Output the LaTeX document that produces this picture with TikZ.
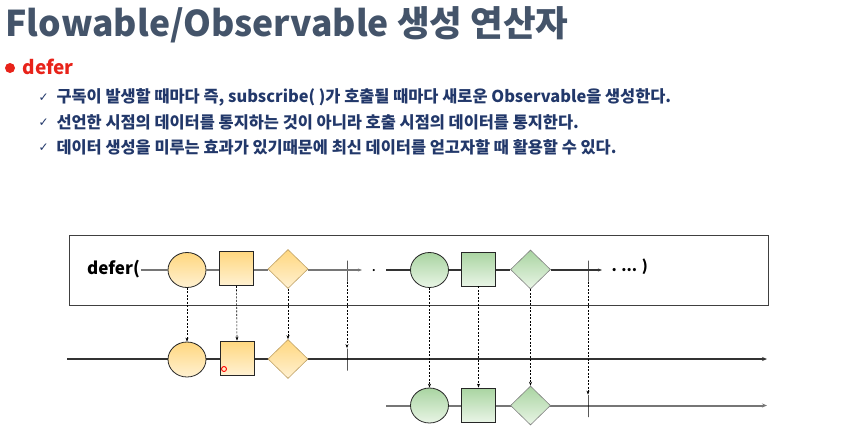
\documentclass[tikz,border=0pt]{standalone}
\usepackage{fontspec}
\setmainfont{Noto Sans CJK KR}
\newfontfamily\symfont{DejaVu Sans}
\usetikzlibrary{shapes.geometric, arrows.meta, positioning}

\definecolor{titlegray}{HTML}{44546A}
\definecolor{bulletred}{HTML}{E8231A}
\definecolor{notedark}{HTML}{22386A}
\definecolor{orangetop}{HTML}{FFD77F}
\definecolor{orangebot}{HTML}{FFF1D2}
\definecolor{greentop}{HTML}{A9D4A1}
\definecolor{greenbot}{HTML}{E9F5E6}
\definecolor{linegray}{HTML}{767676}

\begin{document}
\begin{tikzpicture}[x=1pt, y=-1pt,
    marblec/.style={draw=black!85, ellipse, minimum width=38pt, minimum height=35pt, inner sep=0pt, line width=.8pt},
    marbles/.style={draw=black!85, rectangle, minimum width=34pt, minimum height=34pt, inner sep=0pt, line width=.8pt},
    marbled/.style={diamond, minimum width=40pt, minimum height=39pt, inner sep=0pt, line width=.6pt},
    orange/.style={top color=orangetop, bottom color=orangebot},
    green/.style={top color=greentop, bottom color=greenbot},
    endtick/.style={draw, inner sep=0pt, minimum width=0pt, minimum height=21pt, line width=.8pt},
    flowline/.style={linegray, line width=1.2pt},
    timeline/.style={line width=1.5pt, -{Stealth[length=5pt,width=4pt]}},
    emit/.style={black, line width=.6pt, dash pattern=on 2pt off 1.5pt, -{Stealth[length=4pt,width=3pt]}},
    note/.style={anchor=west, text=notedark, font=\bfseries\fontsize{16.4}{18}\selectfont}
    ]
    \useasboundingbox (0,0) rectangle (854,432);

    % heading
    \node [anchor=west, text=titlegray, font=\bfseries\fontsize{35.5}{40}\selectfont] (title) at (2,25) {Flowable/Observable 생성 연산자};
    \node [circle, fill=bulletred, minimum size=10pt, inner sep=0pt] (dotred) at (10,68) {};
    \node [anchor=west, text=bulletred, font=\bfseries\fontsize{19}{22}\selectfont] (name) at (19,67) {defer};

    \node [anchor=west, text=notedark, font=\symfont\fontsize{12}{14}\selectfont] (ck1) at (35,98) {✓};
    \node [anchor=west, text=notedark, font=\symfont\fontsize{12}{14}\selectfont] (ck2) at (35,123) {✓};
    \node [anchor=west, text=notedark, font=\symfont\fontsize{12}{14}\selectfont] (ck3) at (35,148) {✓};
    \node [note] (n1) at (53,97) {구독이 발생할 때마다 즉, subscribe( )가 호출될 때마다 새로운 Observable을 생성한다.};
    \node [note] (n2) at (53,122) {선언한 시점의 데이터를 통지하는 것이 아니라 호출 시점의 데이터를 통지한다.};
    \node [note] (n3) at (53,147) {데이터 생성을 미루는 효과가 있기때문에 최신 데이터를 얻고자할 때 활용할 수 있다.};

    % frame of defer( ... )
    \node [draw=black!75, line width=1pt, minimum width=699pt, minimum height=70pt, inner sep=0pt] (frame) at (418.5,270) {};

    % lower timelines
    \coordinate (a0) at (67,359);
    \coordinate (a1) at (767,359);
    \coordinate (b0) at (386,405.5);
    \coordinate (b1) at (767,405.5);
    \draw [timeline, black!80] (a0) -- (a1);
    \draw [timeline, linegray, line width=2pt] (b0) -- (b1);

    % upper marbles
    \node [anchor=west, inner sep=1pt, font=\bfseries\fontsize{17}{19}\selectfont] (lbl) at (86,269) {defer(};
    \node [marblec, orange] (c1) at (187,270) {};
    \node [marbles, orange] (s1) at (236.5,268.5) {};
    \node [marbled, orange, draw={rgb,255:red,190;green,160;blue,100}] (d1) at (288,269) {};
    \node [endtick] (k1) at (347,271) {};
    \coordinate (e1) at (362,270);
    \node [font=\bfseries] (sep) at (374,271) {.};

    \coordinate (g0) at (386,270);
    \node [marblec, green] (c2) at (429.5,270) {};
    \node [marbles, green] (s2) at (478.5,269) {};
    \node [marbled, green, draw=black!50] (d2) at (530.5,269.5) {};
    \node [endtick] (k2) at (588,271) {};
    \coordinate (e2) at (602,270);
    \node [anchor=west, font=\bfseries\fontsize{15}{17}\selectfont] (tail) at (608,267) {. ... )};

    \draw [flowline] (lbl.east |- c1.west) -- (c1.west);
    \draw [flowline] (c1.east) -- (s1.west |- c1.east);
    \draw [flowline] (s1.east |- c1.east) -- (d1.west |- c1.east);
    \draw [flowline, -{Stealth[length=4pt,width=3pt]}] (d1.east |- c1.east) -- (e1);
    \draw [flowline, black!80] (g0) -- (c2.west);
    \draw [flowline, black!80] (c2.east) -- (s2.west |- c2.east);
    \draw [flowline, black!80] (s2.east |- c2.east) -- (d2.west |- c2.east);
    \draw [flowline, black!80, -{Stealth[length=4pt,width=3pt]}] (d2.east |- c2.east) -- (e2);

    % lower marbles
    \node [marblec, orange] (c3) at (187,359.5) {};
    \node [marbles, orange] (s3) at (237,358) {};
    \node [marbled, orange, draw={rgb,255:red,190;green,160;blue,100}] (d3) at (288,359) {};
    \node [endtick, minimum height=22pt] (k3) at (347,359.5) {};
    \node [circle, draw=red, line width=.9pt, minimum size=5pt, inner sep=0pt] (spot) at (224,369) {};

    \node [marblec, green] (c4) at (429.5,405.5) {};
    \node [marbles, green] (s4) at (478.5,405) {};
    \node [marbled, green, draw=black!50] (d4) at (530.5,405.5) {};
    \node [endtick, minimum height=22pt] (k4) at (588,406) {};

    % emissions
    \draw [emit] (c1.south) -- (c3.north);
    \draw [emit] (s1.south) -- (s3.north);
    \draw [emit] (d1.south) -- (d3.north);
    \draw [emit] (k1.south) -- (k3.north);
    \draw [emit] (c2.south) -- (c4.north);
    \draw [emit] (s2.south) -- (s4.north);
    \draw [emit] (d2.south) -- (d4.north);
    \draw [emit] (k2.south) -- (k4.north);
\end{tikzpicture}
\end{document}
